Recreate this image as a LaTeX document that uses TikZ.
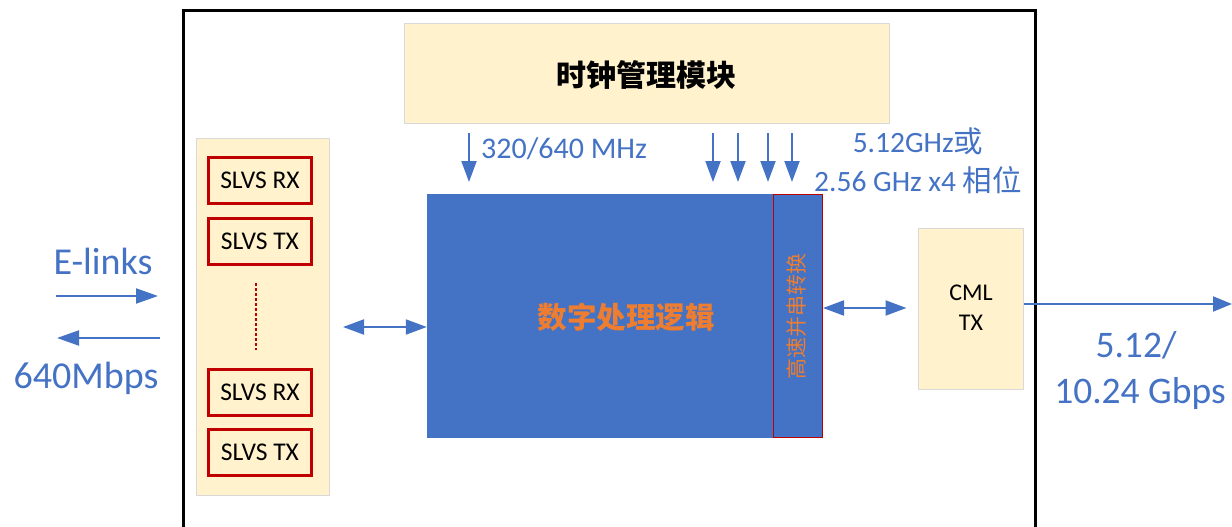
\documentclass[tikz,border=0pt]{standalone}
\usepackage{fontspec}
\setmainfont{Carlito}
\newfontfamily\cjk{Noto Sans CJK SC}
\usetikzlibrary{arrows.meta}
\definecolor{cblue}{HTML}{4472C4}
\definecolor{corange}{HTML}{ED7D31}
\definecolor{ccream}{HTML}{FFF2CC}
\definecolor{cgray}{HTML}{D9D9D9}
\definecolor{cred}{HTML}{C00000}
\tikzset{
  cream/.style={draw=cgray, line width=1pt, fill=ccream, inner sep=0pt},
  slvs/.style={draw=cred, line width=3pt, fill=ccream, minimum width=103pt, minimum height=46pt, inner sep=0pt, font=\fontsize{25.5}{28}\selectfont},
  arr/.style={draw=cblue, line width=2pt, -{Triangle[length=21pt,width=15pt]}},
  harr/.style={draw=cblue, line width=2pt, -{Triangle[length=22pt,width=15pt]}},
  darr/.style={draw=cblue, line width=2pt, {Triangle[length=21pt,width=15pt]}-{Triangle[length=21pt,width=15pt]}},
  lbl/.style={text=cblue, inner sep=0pt},
}
\begin{document}
\begin{tikzpicture}[x=1pt,y=-1pt]
\useasboundingbox (0,0) rectangle (1232,527);
% outer frame
\draw[line width=3pt] (183,527) -- (183,11) -- (1035,11) -- (1035,527);
% clock module
\node[cream, minimum width=485pt, minimum height=99pt] (clk) at (646.5,73.5) {};
\node[inner sep=0pt, font=\fontsize{30}{34}\selectfont\cjk\bfseries] (clkt) at (646,75) {时钟管理模块};
% left panel
\node[cream, minimum width=133pt, minimum height=357pt] (panel) at (262.5,316.5) {};
\node[slvs] (rx1) at (260,180.5) {SLVS RX};
\node[slvs] (tx1) at (260,241) {SLVS TX};
\node[slvs] (rx2) at (260,392) {SLVS RX};
\node[slvs] (tx2) at (260,452) {SLVS TX};
\coordinate (d1) at (256,283);
\coordinate (d2) at (256,350);
\draw[cred, line width=1.8pt, dash pattern=on 2.5pt off 2.5pt] (d1) -- (d2);
% digital logic
\node[fill=cblue, draw=cblue, minimum width=346pt, minimum height=243pt, inner sep=0pt] (dig) at (600,315.5) {};
\node[inner sep=0pt, text=corange, font=\fontsize{29.5}{34}\selectfont\cjk\bfseries] (digt) at (626,317) {数字处理逻辑};
% serdes strip
\node[fill=cblue, draw=cred, line width=1pt, minimum width=49pt, minimum height=243pt, inner sep=0pt] (ser) at (797.5,315.5) {};
\node[inner sep=0pt, rotate=90, text=corange, font=\fontsize{21}{24}\selectfont\cjk] (sert) at (797,316) {高速并串转换};
% CML TX
\node[cream, minimum width=105pt, minimum height=161pt] (cml) at (970.5,308.5) {};
\node[inner sep=0pt, align=center, font=\fontsize{24}{30}\selectfont] (cmlt) at (971,308) {CML\\TX};
% clock arrows
\coordinate (a0s) at (469,133); \coordinate (a0e) at (469,182);
\coordinate (a1s) at (713,133); \coordinate (a1e) at (713,182);
\coordinate (a2s) at (738,133); \coordinate (a2e) at (738,182);
\coordinate (a3s) at (768,133); \coordinate (a3e) at (768,182);
\coordinate (a4s) at (792,133); \coordinate (a4e) at (792,182);
\draw[arr] (a0s) -- (a0e);
\draw[arr] (a1s) -- (a1e);
\draw[arr] (a2s) -- (a2e);
\draw[arr] (a3s) -- (a3e);
\draw[arr] (a4s) -- (a4e);
\node[lbl, anchor=base west, font=\fontsize{30}{34}\selectfont] (mhz) at (481,158) {320/640 MHz};
\node[lbl, anchor=base, font=\fontsize{29.5}{34}\selectfont] (ghz1) at (918,152) {5.12GHz{\cjk 或}};
\node[lbl, anchor=base, font=\fontsize{29.5}{34}\selectfont] (ghz2) at (918,191) {2.56 GHz x4 {\cjk 相位}};
% E-links
\coordinate (e1s) at (56,296); \coordinate (e1e) at (158,296);
\coordinate (e2s) at (160,338); \coordinate (e2e) at (57,338);
\draw[harr] (e1s) -- (e1e);
\draw[harr] (e2s) -- (e2e);
\node[lbl, anchor=base, font=\fontsize{38}{40}\selectfont] (elinks) at (103,274) {E-links};
\node[lbl, anchor=base, font=\fontsize{38}{40}\selectfont] (mbps) at (86,388) {640Mbps};
% panel <-> digital
\coordinate (pd) at (343,327);
\draw[darr] (pd) -- (pd -| dig.west);
% serdes <-> CML
\coordinate (sc) at (823,308);
\draw[darr, shorten >=11pt] (sc) -- (sc -| cml.west);
% output
\coordinate (out) at (1232,304);
\draw[draw=cblue, line width=2pt, -{Triangle[length=19pt,width=15pt]}] (out -| cml.east) -- (out);
\node[lbl, anchor=base, font=\fontsize{37.5}{40}\selectfont] (g1) at (1136,357) {5.12/};
\node[lbl, anchor=base, font=\fontsize{37.5}{40}\selectfont] (g2) at (1140,403) {10.24 Gbps};
\end{tikzpicture}
\end{document}
